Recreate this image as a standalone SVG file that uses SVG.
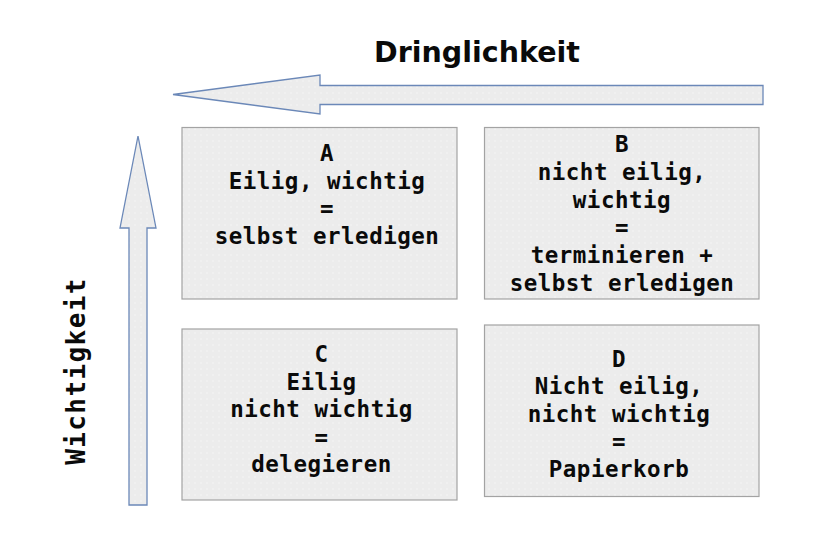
<svg xmlns="http://www.w3.org/2000/svg" width="840" height="560" viewBox="0 0 840 560">
<defs>
<pattern id="dots" width="6" height="6" patternUnits="userSpaceOnUse">
<rect width="6" height="6" fill="#ececec"/>
<circle cx="3" cy="3" r="0.8" fill="#f6f6f6"/>
</pattern>
<style>
.box{fill:url(#dots);stroke:#a3a3a3;stroke-width:1.2}
.arrow{fill:url(#dots);stroke:#6b88b8;stroke-width:1.3;stroke-linejoin:miter}
.t{font-family:"DejaVu Sans Mono","Liberation Mono",monospace;font-weight:bold;font-size:22.5px;letter-spacing:0.5px;fill:#0a0a0a;text-anchor:middle}
.title{font-family:"DejaVu Sans","Liberation Sans",sans-serif;font-weight:bold;font-size:28.5px;fill:#0a0a0a;text-anchor:middle}
.vt{font-family:"DejaVu Sans Mono","Liberation Mono",monospace;font-weight:bold;font-size:26px;letter-spacing:1.4px;fill:#0a0a0a;text-anchor:middle}
</style>
</defs>
<rect width="840" height="560" fill="#ffffff"/>
<g id="axes">
<polygon id="arrow-dringlichkeit" class="arrow" points="173,94.5 320,75 320,85.5 763,85.5 763,104.5 320,104.5 320,114"/>
<polygon id="arrow-wichtigkeit" class="arrow" points="138,136 156,228 147,228 147,505 129,505 129,228 120,228"/>
</g>
<text class="title" x="477" y="62">Dringlichkeit</text>
<text class="vt" transform="translate(85,371) rotate(-90)" x="0" y="0">Wichtigkeit</text>
<g id="node-A">
<rect class="box" x="182" y="127.5" width="275" height="171.5"/>
<text class="t" x="327" y="161">A</text>
<text class="t" x="327" y="188.5">Eilig, wichtig</text>
<text class="t" x="327" y="216">=</text>
<text class="t" x="327" y="243.5">selbst erledigen</text>
</g>
<g id="node-B">
<rect class="box" x="484.5" y="127.5" width="274.5" height="171.5"/>
<text class="t" x="622" y="152.3">B</text>
<text class="t" x="622" y="180">nicht eilig,</text>
<text class="t" x="622" y="207.5">wichtig</text>
<text class="t" x="622" y="235">=</text>
<text class="t" x="622" y="263">terminieren +</text>
<text class="t" x="622" y="290.5">selbst erledigen</text>
</g>
<g id="node-C">
<rect class="box" x="182" y="329" width="275" height="171"/>
<text class="t" x="321.5" y="362">C</text>
<text class="t" x="321.5" y="389.5">Eilig</text>
<text class="t" x="321.5" y="417">nicht wichtig</text>
<text class="t" x="321.5" y="444.5">=</text>
<text class="t" x="321.5" y="472">delegieren</text>
</g>
<g id="node-D">
<rect class="box" x="484.5" y="325" width="274.5" height="171.5"/>
<text class="t" x="619" y="366.5">D</text>
<text class="t" x="619" y="394">Nicht eilig,</text>
<text class="t" x="619" y="421.5">nicht wichtig</text>
<text class="t" x="619" y="449">=</text>
<text class="t" x="619" y="476.5">Papierkorb</text>
</g>
</svg>
